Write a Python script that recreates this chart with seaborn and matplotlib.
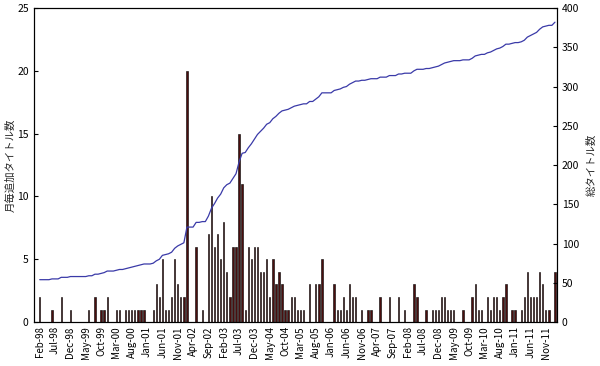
import numpy as np
import pandas as pd
import matplotlib
matplotlib.use("Agg")
import matplotlib.pyplot as plt
import seaborn as sns

# Month categories (Feb-98 .. Feb-12)
months = pd.date_range("1998-02-01", periods=169, freq="MS").strftime("%b-%y").tolist()

# Titles added per month
monthly = [
    2, 0, 0, 0, 1, 0, 0, 2, 0, 0,
    1, 0, 0, 0, 0, 0, 1, 0, 2, 0,
    1, 1, 2, 0, 0, 1, 1, 0, 1, 1,
    1, 1, 1, 1, 1, 0, 0, 1, 3, 2,
    5, 1, 1, 2, 5, 3, 2, 2, 20, 0,
    0, 6, 0, 1, 0, 7, 10, 6, 7, 5,
    8, 4, 2, 6, 6, 15, 11, 1, 6, 5,
    6, 6, 4, 4, 5, 2, 5, 3, 4, 3,
    1, 1, 2, 2, 1, 1, 1, 0, 3, 0,
    3, 3, 5, 0, 0, 0, 3, 1, 1, 2,
    1, 3, 2, 2, 0, 1, 0, 1, 1, 0,
    0, 2, 0, 0, 2, 0, 0, 2, 0, 1,
    0, 0, 3, 2, 0, 0, 1, 0, 1, 1,
    1, 2, 2, 1, 1, 1, 0, 0, 1, 0,
    0, 2, 3, 1, 1, 0, 2, 1, 2, 2,
    1, 2, 3, 0, 1, 1, 0, 1, 2, 4,
    2, 2, 2, 4, 3, 1, 1, 0, 4,
]
# Titles existing before Feb-98
base_total = 52
total_titles = base_total + np.cumsum(monthly)

left_ticks = [0, 5, 10, 15, 20, 25]
right_ticks = [0, 50, 100, 150, 200, 250, 300, 350, 400]

sns.set_style("white")
plt.rcParams["font.family"] = ["Noto Sans CJK JP", "DejaVu Sans"]

fig = plt.figure(figsize=(6.0, 3.66), dpi=100)
ax = fig.add_axes([0.056, 0.12, 0.872, 0.858])

df = pd.DataFrame({"idx": np.arange(len(monthly)), "month": months,
                   "added": monthly, "total": total_titles})

sns.barplot(data=df, x="idx", y="added", native_scale=True, color="#4a0e0e",
            edgecolor="black", linewidth=0.4, width=0.45, saturation=1, ax=ax)

ax2 = ax.twinx()
sns.lineplot(data=df, x="idx", y="total", ax=ax2, color="#3a3aa8", linewidth=0.9)

ax.set_xlim(-2.0, 168.6)
ax.set_ylim(0, 25)
ax2.set_ylim(0, 400)
ax.set_yticks(left_ticks)
ax2.set_yticks(right_ticks)
ax.set_xticks(df["idx"][::5])
ax.set_xticklabels(months[::5], rotation=90, fontsize=7)

for a in (ax, ax2):
    a.tick_params(axis="both", direction="in", length=3, width=0.8, labelsize=7.5,
                  colors="black")
    for s in a.spines.values():
        s.set_color("black")
        s.set_linewidth(0.8)
ax.tick_params(axis="x", length=2, pad=3, labelsize=7)

ax.set_xlabel("")
ax.set_ylabel("月毎追加タイトル数", fontsize=7.5)
ax2.set_ylabel("総タイトル数", fontsize=7.5)
ax.yaxis.set_label_coords(-0.035, 0.5)
ax2.yaxis.set_label_coords(1.057, 0.5)

fig.savefig("out.png", dpi=100)
